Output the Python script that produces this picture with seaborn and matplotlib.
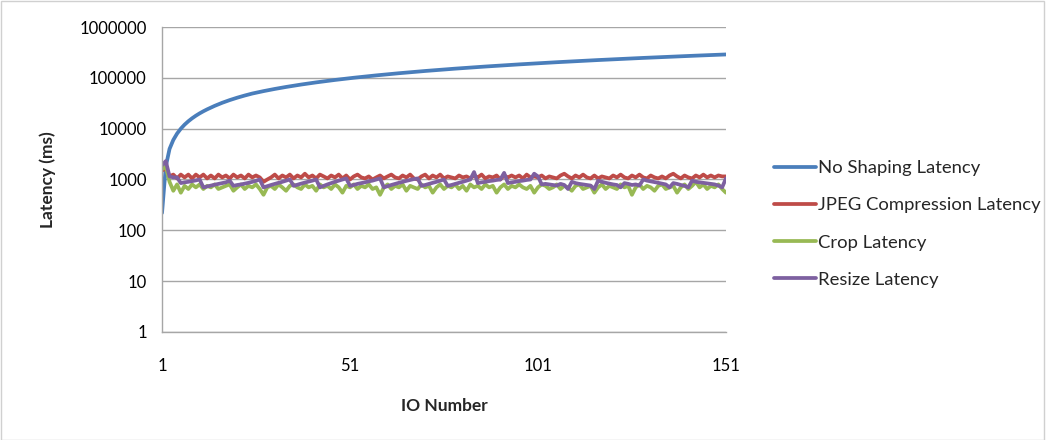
import matplotlib
matplotlib.use('Agg')
import matplotlib.pyplot as plt
import matplotlib.ticker as mticker
from matplotlib.patches import Rectangle
import seaborn as sns
import pandas as pd

# IO number 1..151
io_numbers = list(range(1, 152))

no_shaping = [
    220, 1800, 4000, 6000, 8000, 10000, 12000, 14000, 16000, 18000,
    20000, 22000, 24000, 26000, 28100, 30200, 32300, 34400, 36500, 38600,
    40700, 42800, 44900, 47000, 49100, 51000, 52900, 54800, 56700, 58600,
    60500, 62400, 64300, 66200, 68100, 70000, 71900, 73800, 75700, 77600,
    79500, 81400, 83300, 85200, 87100, 89000, 90900, 92800, 94700, 96600,
    98500, 100400, 102300, 104200, 106100, 108000, 109900, 111800, 113700, 115600,
    117500, 119400, 121300, 123200, 125100, 127000, 128900, 130800, 132700, 134600,
    136500, 138400, 140300, 142200, 144100, 146000, 147900, 149800, 151700, 153600,
    155500, 157400, 159300, 161200, 163100, 165000, 166900, 168800, 170700, 172600,
    174500, 176400, 178300, 180200, 182100, 184000, 185900, 187800, 189700, 191600,
    193500, 195400, 197300, 199200, 201100, 203000, 204900, 206800, 208700, 210600,
    212500, 214400, 216300, 218200, 220100, 222000, 223900, 225800, 227700, 229600,
    231500, 233400, 235300, 237200, 239100, 241000, 242900, 244800, 246700, 248600,
    250500, 252400, 254300, 256200, 258100, 260000, 261900, 263800, 265700, 267600,
    269500, 271400, 273300, 275200, 277100, 279000, 280900, 282800, 284700, 286600,
    288500,
]

jpeg = [
    1500, 1650, 1150, 1250, 1050, 1250, 1100, 1250, 1050, 1250,
    1100, 1250, 1050, 1200, 1050, 1250, 1100, 1200, 1050, 1250,
    1100, 1200, 1050, 1250, 1100, 1200, 1100, 900, 1000, 1100,
    1250, 1050, 1200, 1100, 1250, 1050, 1200, 1100, 1300, 1100,
    1200, 1050, 1250, 1150, 1050, 1200, 1100, 1250, 1050, 1200,
    1000, 1150, 1250, 1100, 1050, 1150, 1000, 1100, 1200, 1050,
    1150, 1250, 1100, 1050, 1200, 1100, 1250, 1050, 1000, 1150,
    1250, 1050, 1200, 1100, 1250, 1050, 1150, 1100, 1050, 1200,
    1100, 1150, 1050, 1200, 1100, 1250, 1050, 1150, 1100, 1200,
    1000, 1200, 1100, 1200, 1100, 1200, 1050, 1250, 1100, 1150,
    1100, 1200, 1050, 1150, 1100, 1050, 1200, 1300, 1150, 1050,
    1200, 1100, 1250, 1100, 1050, 1200, 1050, 1150, 1100, 1050,
    1200, 1100, 1250, 1100, 1050, 1200, 1100, 1250, 1100, 1050,
    1200, 1100, 1050, 1150, 1050, 1200, 1300, 1150, 1050, 1200,
    1100, 1050, 1200, 1100, 1250, 1100, 1200, 1100, 1200, 1150,
    1150,
]

crop = [
    1600, 1800, 900, 600, 800, 550, 750, 650, 800, 700,
    800, 650, 750, 700, 800, 650, 700, 750, 800, 600,
    700, 800, 650, 750, 700, 800, 650, 500, 700, 750,
    650, 800, 700, 600, 750, 800, 700, 650, 800, 700,
    750, 600, 800, 700, 750, 650, 800, 700, 550, 750,
    700, 800, 650, 750, 700, 800, 650, 700, 500, 700,
    800, 650, 750, 700, 800, 600, 750, 700, 650, 800,
    700, 750, 550, 700, 800, 650, 750, 700, 800, 650,
    750, 600, 800, 700, 750, 650, 800, 700, 750, 550,
    700, 800, 650, 750, 700, 800, 700, 650, 750, 550,
    700, 800, 750, 650, 700, 800, 650, 750, 700, 600,
    750, 800, 650, 700, 750, 550, 700, 800, 650, 750,
    700, 650, 800, 700, 750, 500, 700, 800, 650, 750,
    700, 600, 750, 800, 650, 700, 750, 550, 700, 800,
    650, 750, 900, 700, 800, 650, 750, 700, 800, 650,
    550,
]

resize = [
    1900, 2300, 1150, 1100, 1100, 850, 880, 900, 930, 960,
    1000, 700, 730, 760, 790, 820, 850, 880, 950, 750,
    780, 800, 830, 860, 900, 940, 1000, 700, 740, 780,
    820, 860, 900, 950, 1000, 750, 790, 830, 870, 910,
    950, 1000, 700, 750, 800, 850, 900, 950, 1000, 1050,
    750, 780, 820, 850, 880, 920, 950, 1000, 1050, 700,
    740, 780, 820, 860, 900, 940, 980, 1020, 1050, 750,
    780, 820, 860, 900, 950, 1000, 750, 780, 820, 860,
    900, 950, 1000, 1400, 850, 880, 900, 930, 950, 980,
    1000, 1350, 850, 880, 900, 930, 950, 980, 1000, 1300,
    1150, 800, 820, 800, 780, 760, 820, 780, 650, 900,
    850, 820, 800, 780, 760, 650, 950, 900, 860, 830,
    800, 780, 700, 850, 820, 780, 800, 760, 1000, 950,
    920, 890, 860, 830, 800, 700, 850, 820, 780, 750,
    700, 950, 900, 880, 860, 840, 820, 800, 760, 700,
    1050,
]

series_names = ['No Shaping Latency', 'JPEG Compression Latency',
                'Crop Latency', 'Resize Latency']
colors = ['#4A7EBB', '#BE4B48', '#98B954', '#7D60A0']

frames = []
for name, vals in zip(series_names, [no_shaping, jpeg, crop, resize]):
    frames.append(pd.DataFrame({'IO Number': io_numbers, 'Latency': vals, 'Series': name}))
df = pd.concat(frames, ignore_index=True)

sns.set_style('white')
plt.rcParams['font.family'] = ['Lato', 'DejaVu Sans']

fig = plt.figure(figsize=(10.46, 4.4), dpi=100)
ax = fig.add_axes([0.1549, 0.2455, 0.694 - 0.1549, 0.9386 - 0.2455])

sns.lineplot(data=df, x='IO Number', y='Latency', hue='Series',
             hue_order=series_names, palette=colors, linewidth=2.7,
             ax=ax, legend=True)

ax.set_yscale('log')
ax.set_ylim(1, 1000000)
ax.set_xlim(1, 151)

grid_c = '#a6a6a6'
ax.yaxis.set_major_locator(mticker.FixedLocator([1, 10, 100, 1000, 10000, 100000, 1000000]))
ax.yaxis.set_major_formatter(mticker.FuncFormatter(lambda v, p: f'{int(round(v))}'))
ax.yaxis.set_minor_locator(mticker.NullLocator())
ax.xaxis.set_major_locator(mticker.FixedLocator([1, 51, 101, 151]))
ax.xaxis.set_minor_locator(mticker.FixedLocator(list(range(1, 152, 10))))
ax.grid(axis='y', color=grid_c, linewidth=1)
ax.set_axisbelow(True)

for s in ['top', 'right']:
    ax.spines[s].set_visible(False)
for s in ['left', 'bottom']:
    ax.spines[s].set_color(grid_c)
    ax.spines[s].set_linewidth(1)

ax.tick_params(axis='both', which='both', direction='out', length=5,
               color=grid_c, labelsize=12, labelcolor='black')
ax.tick_params(axis='x', pad=14)
ax.tick_params(axis='y', pad=6)

ax.set_xlabel('IO Number', fontsize=12.5, fontweight='bold', labelpad=17)
ax.set_ylabel('Latency (ms)', fontsize=12.5, fontweight='bold', labelpad=17)

handles, labels = ax.get_legend_handles_labels()
leg = ax.legend(handles, labels, loc='upper left', bbox_to_anchor=(0.724, 0.674),
                bbox_transform=fig.transFigure, frameon=False, fontsize=13.3,
                handlelength=2.3, handletextpad=0.1, labelspacing=1.15)
for line in leg.get_lines():
    line.set_linewidth(2.7)

fig.patches.append(Rectangle((0.0005, 0.001), 0.998, 0.997, transform=fig.transFigure,
                             fill=False, edgecolor='#d0d0d0', linewidth=1))

fig.savefig('out.png', dpi=100)
